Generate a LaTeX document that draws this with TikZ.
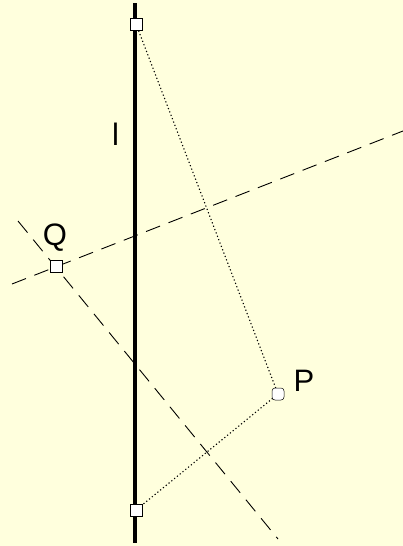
\documentclass[tikz,border=0pt]{standalone}
\usepackage{fontspec}
\setmainfont{Liberation Sans}
\usetikzlibrary{shapes.misc}
\definecolor{bgyellow}{RGB}{255,255,221}
\tikzset{
  marker/.style={draw=black, fill=white, line width=0.5pt, inner sep=0pt, minimum size=12pt},
  sqmark/.style={marker, chamfered rectangle, chamfered rectangle xsep=3pt, chamfered rectangle ysep=3pt},
  ptmark/.style={marker, rounded corners=3pt, rectangle},
  mainline/.style={line width=3.2pt, black},
  dotline/.style={line width=1.1pt, dash pattern=on 1.2pt off 2.4pt},
  dashline/.style={line width=0.9pt, dash pattern=on 15pt off 9pt},
  lbl/.style={font=\fontsize{31}{36}\selectfont, inner sep=0pt}
}
\begin{document}
\begin{tikzpicture}[x=1pt,y=-1pt]
\fill[bgyellow] (0,0) rectangle (403,546);
\useasboundingbox (0,0) rectangle (403,546);
% coordinates
\coordinate (Ltop) at (135,3);
\coordinate (Lbot) at (135,543);
\coordinate (A) at (136,24);
\coordinate (B) at (136,510);
\coordinate (Pc) at (278,394);
\coordinate (Qc) at (56,266);
\coordinate (d1a) at (12,284);
\coordinate (d1b) at (403,131);
\coordinate (d2a) at (18,221);
\coordinate (d2b) at (278,539);
% lines
\draw[mainline] (Ltop) -- (Lbot);
\draw[dashline] (d1a) -- (d1b);
\draw[dashline] (d2a) -- (d2b);
\draw[dotline] (A) -- (Pc) -- (B);
% markers
\node[sqmark, chamfered rectangle corners={north east}] (top) at (A) {};
\node[sqmark, chamfered rectangle corners={north west}] (bot) at (B) {};
\node[sqmark, chamfered rectangle corners={north west}] (Q) at (Qc) {};
\node[ptmark] (P) at (Pc) {};
% labels
\node[lbl] (lQ) at (55,238) {Q};
\node[lbl] (lP) at (304,381) {P};
\node[lbl] (ll) at (115.5,134) {l};
\end{tikzpicture}
\end{document}
